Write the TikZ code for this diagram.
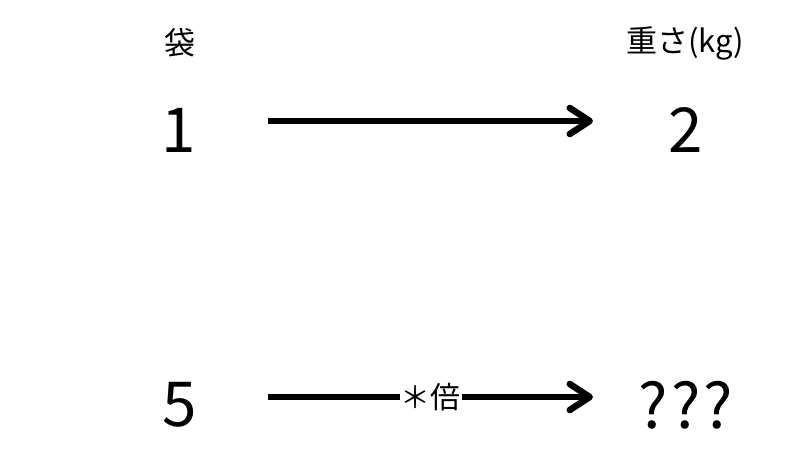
\documentclass[tikz,border=0pt]{standalone}
\usepackage{fontspec}
\setmainfont{Noto Sans CJK JP}
\usetikzlibrary{arrows.meta}
\begin{document}
\begin{tikzpicture}[x=1pt,y=-1pt,
  head/.style={font=\fontsize{31}{33}\selectfont, inner sep=0pt},
  num/.style={font=\fontsize{62}{66}\selectfont, inner sep=0pt},
  conn/.style={line width=6.5pt, -{Straight Barb[length=20pt,width=26pt,round]}},
  lbl/.style={font=\fontsize{30}{32}\selectfont, fill=white, inner sep=1pt}]
\useasboundingbox[fill=white] (0,0) rectangle (800,450);
\node[head] (bag) at (180,43) {袋};
\node[head] (wt) at (685,43) {重さ(kg)};
\node[num] (n1) at (179,130) {1};
\node[num] (n2) at (686,130) {2};
\node[num] (n5) at (180,405) {5};
\node[num] (nq) at (686,405) {?\kern3pt?\kern3pt?};
\coordinate (a1s) at (268,121);
\coordinate (a1e) at (593,121);
\coordinate (a2s) at (268,397);
\coordinate (a2e) at (593,397);
\draw[conn] (a1s) -- (a1e);
\draw[conn] (a2s) -- node[lbl, pos=0.5] (times) {＊倍} (a2e);
\end{tikzpicture}
\end{document}
